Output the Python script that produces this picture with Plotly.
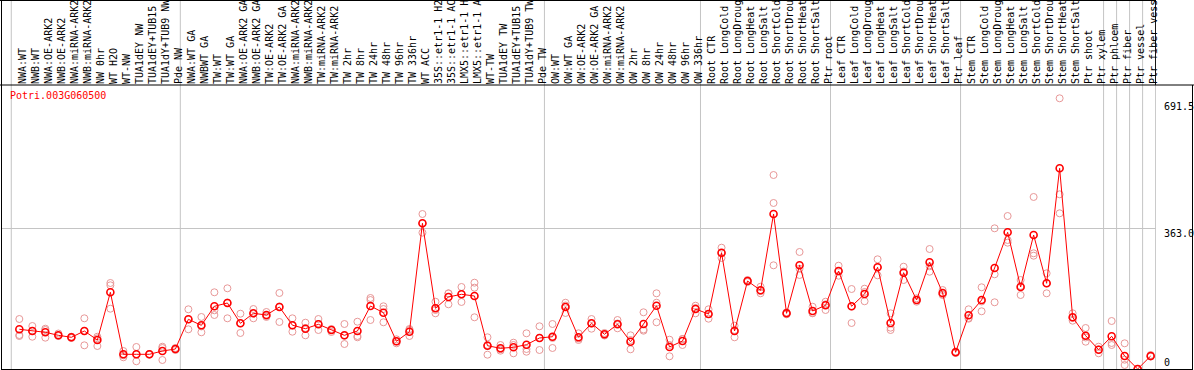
import plotly.graph_objects as go

gene = "Potri.003G060500"

samples = [
    "NWA:WT", "NWB:WT", "NWA:OE-ARK2", "NWB:OE-ARK2", "NWA:miRNA-ARK2", "NWB:miRNA-ARK2",
    "NW 0hr", "WT H2O", "WT-NW", "TUA1dEY NW", "TUA1dEY+TUB15 NW", "TUA1dY+TUB9 NW", "Pde NW",
    "NWA:WT GA", "NWBWT GA", "TW:WT", "TW:WT GA", "NWA:OE-ARK2 GA", "NWB:OE-ARK2 GA",
    "TW:OE-ARK2", "TW:OE-ARK2 GA", "NWA:miRNA-ARK2", "NWB:miRNA-ARK2", "TW:miRNA-ARK2",
    "TW:miRNA-ARK2", "TW 2hr", "TW 8hr", "TW 24hr", "TW 48hr", "TW 96hr", "TW 336hr", "WT ACC",
    "35S::etr1-1 H2O", "35S::etr1-1 ACC", "LMX5::etr1-1 H2O", "LMX5::etr1-1 ACC", "WT-TW",
    "TUA1dEY TW", "TUA1dEY+TUB15 TW", "TUA1dY+TUB9 TW", "Pde TW",
    "OW:WT", "OW:WT GA", "OW:OE-ARK2", "OW:OE-ARK2 GA", "OW:miRNA-ARK2", "OW:miRNA-ARK2",
    "OW 2hr", "OW 8hr", "OW 24hr", "OW 48hr", "OW 96hr", "OW 336hr",
    "Root CTR", "Root LongCold", "Root LongDrought", "Root LongHeat", "Root LongSalt",
    "Root ShortCold", "Root ShortDrought", "Root ShortHeat", "Root ShortSalt", "Ptr root",
    "Leaf CTR", "Leaf LongCold", "Leaf LongDrought", "Leaf LongHeat", "Leaf LongSalt",
    "Leaf ShortCold", "Leaf ShortDrought", "Leaf ShortHeat", "Leaf ShortSalt", "Ptr leaf",
    "Stem CTR", "Stem LongCold", "Stem LongDrought", "Stem LongHeat", "Stem LongSalt",
    "Stem ShortCold", "Stem ShortDrought", "Stem ShortHeat", "Stem ShortSalt", "Ptr shoot",
    "Ptr xylem", "Ptr phloem", "Ptr fiber", "Ptr vessel", "Ptr fiber vessel",
]

group_sizes = [13, 28, 12, 10, 10, 11, 1, 1, 1, 1]

mean_expr = [
    102.4, 98.0, 94.7, 86.9, 81.8, 98.0, 74.8, 197.9, 37.9, 37.9, 37.9, 46.4, 51.6,
    128.2, 112.7, 161.8, 170.3, 117.9, 143.7, 139.3, 160.0, 113.0, 104.0, 115.3, 100.6,
    86.9, 98.0, 162.5, 145.3, 71.5, 96.2, 375.9, 156.6, 185.8, 192.7, 188.3, 60.1, 53.4,
    56.0, 62.7, 80.0,
    83.3, 160.0, 81.8, 117.9, 89.5, 115.3, 70.4, 116.1, 163.3, 56.8, 72.2, 154.8,
    141.9, 300.1, 98.0, 227.0, 203.0, 399.9, 143.7, 267.5, 149.6, 164.3,
    252.8, 161.8, 193.5, 262.4, 118.7, 248.5, 178.0, 275.3, 196.1, 43.1,
    138.5, 178.0, 260.6, 352.7, 211.6, 345.7, 221.1, 517.8, 133.4, 85.9, 49.8,
    84.4, 33.5, 0.0, 33.5,
]

rep1 = [
    129.0, 110.9, 104.0, 91.6, 83.3, 130.8, 83.3, 221.9, 46.4, 56.8, 37.9, 57.5, 54.2,
    154.0, 134.2, 197.9, 208.2, 142.7, 154.8, 147.1, 196.1, 130.8, 119.5, 129.0, 103.2,
    116.1, 122.0, 183.2, 154.8, 76.6, 100.6, 399.9, 173.6, 195.3, 211.6, 222.7, 81.8, 61.9,
    67.9, 92.1, 110.2,
    116.1, 171.0, 92.1, 129.0, 92.9, 126.4, 86.9, 146.3, 195.3, 75.6, 77.4, 163.3,
    154.0, 313.0, 111.7, 229.6, 212.3, 500.5, 146.3, 301.9, 160.7, 173.6,
    266.5, 206.4, 207.2, 283.0, 143.7, 263.9, 182.4, 309.6, 203.8, 45.2,
    154.0, 210.8, 363.0, 394.7, 229.6, 443.8, 246.9, 698.4, 143.7, 105.8, 57.5,
    123.8, 66.3, 0.0, 36.1,
]

rep2 = [
    87.7, 83.3, 80.8, 85.1, 80.8, 61.1, 59.3, 215.9, 30.2, 19.9, 36.9, 23.2, 51.6,
    102.4, 94.7, 151.4, 130.8, 92.9, 130.8, 136.7, 121.3, 96.2, 86.9, 100.6, 95.5,
    64.5, 85.1, 178.0, 120.5, 66.3, 85.1, 351.7, 143.7, 166.9, 172.9, 209.8, 36.9, 47.2,
    40.5, 44.6, 49.0,
    54.2, 163.8, 74.8, 104.0, 86.4, 105.0, 50.8, 98.8, 120.5, 32.8, 61.9, 143.7,
    129.8, 298.5, 81.8, 224.5, 195.3, 428.3, 141.1, 242.5, 143.7, 152.2,
    240.7, 118.7, 174.7, 241.7, 106.6, 229.6, 173.6, 251.0, 190.9, 41.3,
    129.8, 148.9, 244.3, 332.8, 190.9, 298.5, 195.3, 450.7, 124.6, 70.4, 40.5,
    61.9, 10.3, 0.0, 32.3,
]

rep3 = [
    85.1, 98.0, 100.6, 86.4, 80.0, 98.0, 79.2, 155.6, 35.3, 37.9, 38.7, 54.2, 49.0,
    128.2, 109.7, 139.3, 171.6, 117.9, 143.2, 134.2, 161.3, 112.2, 105.8, 116.1, 100.6,
    85.9, 81.8, 126.4, 161.8, 71.0, 103.2, 375.9, 152.2, 194.8, 193.5, 133.4, 61.9, 50.8,
    61.9, 51.6, 80.0,
    80.0, 144.5, 78.7, 117.4, 87.7, 117.4, 74.8, 101.9, 171.0, 61.9, 77.4, 157.4,
    141.9, 286.4, 100.6, 227.0, 201.2, 267.5, 143.7, 258.8, 144.5, 166.9,
    251.6, 161.3, 198.7, 262.4, 100.6, 251.6, 178.0, 265.0, 193.0, 42.6,
    131.6, 174.2, 172.1, 325.9, 214.1, 292.3, 221.1, 401.7, 131.6, 81.3, 50.3,
    67.1, 24.0, 0.0, 32.3,
]

y_labels = [691.5, 363.0, 0]

idx = list(range(len(samples)))

W, H = 1194, 370
ML, MR, MT, MB = 1, 38, 85, 1
plot_h = H - MT - MB
plot_w = W - ML - MR
x_range = [-1.41, 87.41]
y_range = [0, 732.7]

def py(p):
    # pixel row -> paper y
    return (H - MB - p) / plot_h

def px(p):
    # pixel column -> paper x
    return (p - ML) / plot_w

fig = go.Figure()

fig.add_trace(go.Scatter(
    x=idx * 3, y=rep1 + rep2 + rep3, mode="markers",
    marker=dict(symbol="circle-open", size=7, color="#e89898", line=dict(width=1)),
    hoverinfo="skip", showlegend=False,
))
fig.add_trace(go.Scatter(
    x=idx, y=mean_expr, mode="lines+markers",
    line=dict(color="#ff0000", width=1),
    marker=dict(symbol="circle-open", size=7, color="#ff0000", line=dict(width=1.6)),
    showlegend=False,
))

shapes = []
# group separators
bounds = [-0.62]
c = 0
for g in group_sizes:
    c += g
    bounds.append(c - 0.62)
for b in bounds:
    shapes.append(dict(type="line", xref="x", yref="paper", x0=b, x1=b,
                       y0=0, y1=py(0), line=dict(color="#c4c4c4", width=1), layer="below"))
black = dict(color="#000000", width=1)
# label panel border
shapes.append(dict(type="line", xref="paper", yref="paper", x0=px(0), x1=px(1156),
                   y0=py(0.5), y1=py(0.5), line=black))
shapes.append(dict(type="line", xref="x", yref="paper", x0=bounds[-1], x1=bounds[-1],
                   y0=1, y1=py(0), line=black))
# panel separator and plot frame
shapes.append(dict(type="line", xref="paper", yref="paper", x0=px(0), x1=px(W),
                   y0=1, y1=1, line=black))
shapes.append(dict(type="line", xref="paper", yref="paper", x0=px(1.5), x1=px(1.5),
                   y0=py(369.5), y1=py(0), line=black))
shapes.append(dict(type="line", xref="paper", yref="paper", x0=px(1), x1=px(1193),
                   y0=py(369.5), y1=py(369.5), line=black))
shapes.append(dict(type="line", xref="paper", yref="paper", x0=px(1192.5), x1=px(1192.5),
                   y0=py(369.5), y1=1, line=black))

mono = "DejaVu Sans Mono"
annotations = [
    dict(text=gene, xref="paper", yref="paper", x=px(8), y=py(96), xanchor="left",
         yanchor="middle", showarrow=False, font=dict(family=mono, size=10, color="#ff0000")),
]
for v in y_labels:
    annotations.append(dict(
        text=(f"{v:.1f}" if v else "0"), xref="paper", yref="y", x=1, y=v, xshift=6,
        xanchor="left", yanchor=("top" if v else "bottom"), yshift=(2 if v else -1),
        showarrow=False, font=dict(family=mono, size=10, color="#000000"),
    ))

fig.update_layout(
    width=W, height=H,
    margin=dict(l=ML, r=MR, t=MT, b=MB, pad=0, autoexpand=False),
    paper_bgcolor="#ffffff", plot_bgcolor="#ffffff",
    shapes=shapes, annotations=annotations,
    xaxis=dict(range=x_range, side="top", tickmode="array", tickvals=idx, ticktext=samples,
               tickangle=-90, tickfont=dict(family=mono, size=10, color="#000000"),
               ticklabelshift=3,
               showgrid=False, zeroline=False, showline=False, ticks="", fixedrange=True,
               automargin=False),
    yaxis=dict(range=y_range, tickmode="array", tickvals=[363.0], showticklabels=False,
               showgrid=True, gridcolor="#c4c4c4", gridwidth=1, zeroline=False,
               showline=False, ticks="", fixedrange=True, automargin=False),
)

fig.write_html("out.html", config={"displayModeBar": False},
               post_script="document.body.style.margin='0px';document.body.style.overflow='hidden';")
